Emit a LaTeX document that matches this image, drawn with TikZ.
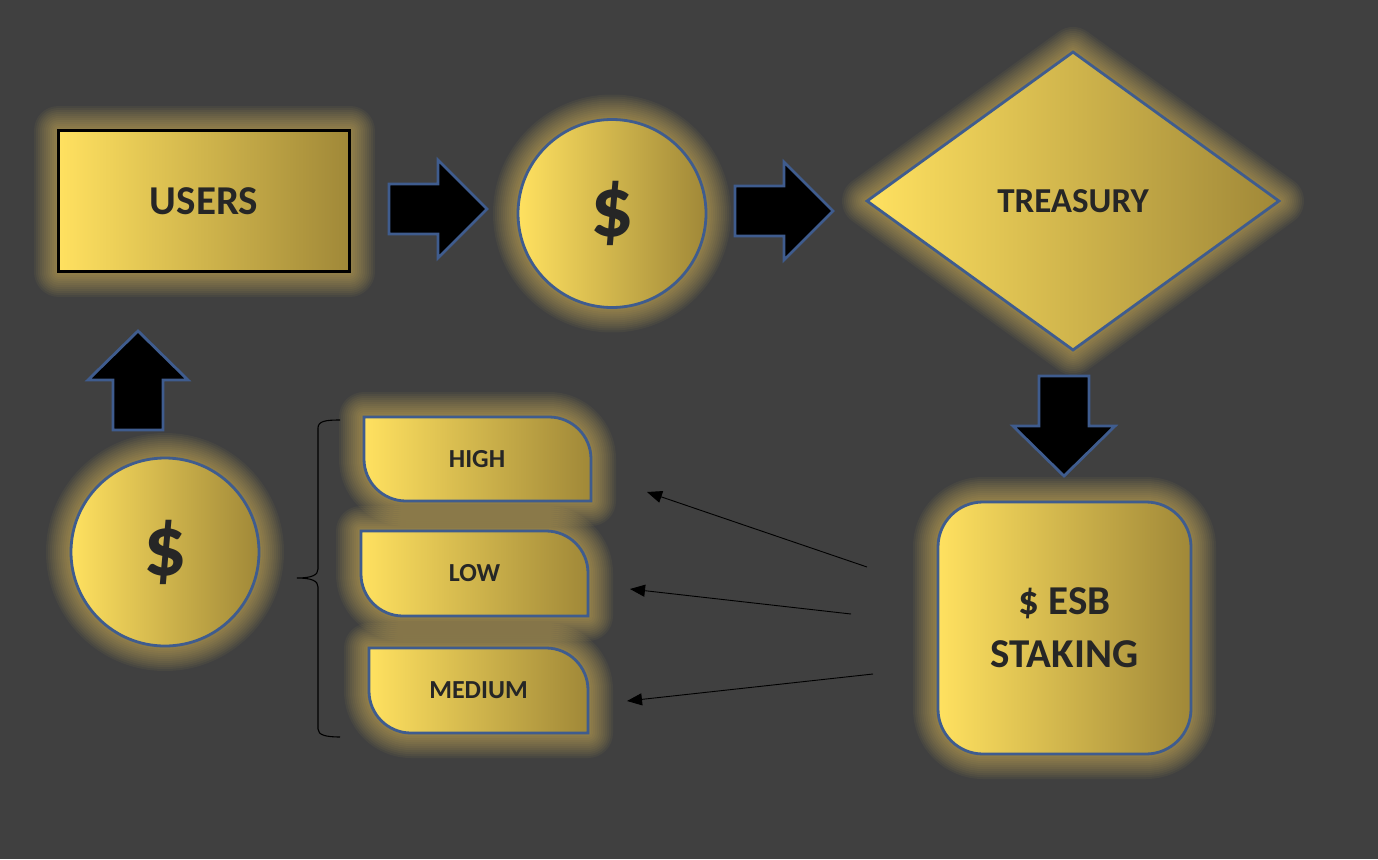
\documentclass[tikz,border=0pt]{standalone}
\usepackage{fontspec}
\setmainfont{Carlito}
\usetikzlibrary{shapes.geometric,arrows.meta}
\definecolor{bg}{HTML}{404040}
\definecolor{goldL}{HTML}{FFE160}
\definecolor{goldR}{HTML}{A08838}
\definecolor{glowc}{HTML}{FFD75E}
\definecolor{edgeblue}{HTML}{3F5C8E}
\definecolor{txtdark}{HTML}{262626}
\tikzset{
 gl/.style={preaction={draw=glowc,draw opacity=.048,line width=#1,line join=round}},
 glow/.style={gl=50pt,gl=46pt,gl=42pt,gl=38pt,gl=34pt,gl=30pt,gl=26pt,gl=22pt,gl=18pt,gl=14pt,gl=10pt,gl=6pt},
 gold/.style={left color=goldL,right color=goldR},
 blueedge/.style={draw=edgeblue,line width=2.8pt},
 blockarrow/.style={fill=black,draw=edgeblue,line width=2.8pt,line join=miter},
 lbl/.style={inner sep=0pt,text=txtdark},
 thinarrow/.style={draw=black,line width=0.9pt,-{Triangle[length=15pt,width=12pt]}},
}
\begin{document}
\begin{tikzpicture}[x=1pt,y=-1pt]
\useasboundingbox (0,0) rectangle (1378,859);
\fill[bg] (0,0) rectangle (1378,859);

% main shapes
\node[rectangle,gold,glow,draw=black,line width=3pt,minimum width=291pt,minimum height=141pt,inner sep=0pt,text=txtdark,font=\bfseries\fontsize{41}{50}\selectfont] (users) at (204,201) {USERS};
\node[circle,gold,glow,blueedge,minimum size=188pt,inner sep=0pt,text=txtdark,font=\bfseries\fontsize{86}{96}\selectfont] (coin1) at (612,213.5) {\raisebox{8pt}{\$}};
\node[diamond,gold,glow,blueedge,minimum width=413pt,minimum height=299pt,inner sep=0pt,text=txtdark,font=\bfseries\fontsize{35}{42}\selectfont] (treasury) at (1073,201) {TREASURY};
\node[rectangle,rounded corners=45pt,gold,glow,blueedge,minimum width=253pt,minimum height=252pt,inner sep=0pt,align=center,text=txtdark,font=\bfseries\fontsize{41}{53}\selectfont] (esb) at (1064.5,628) {\$ ESB\\STAKING};
\node[circle,gold,glow,blueedge,minimum size=188pt,inner sep=0pt,text=txtdark,font=\bfseries\fontsize{86}{96}\selectfont] (coin2) at (165,552) {\raisebox{9pt}{\$}};

% tab shapes
\path[gold,glow,blueedge] (364,417) -- (549,417) .. controls (572.2,417) and (591,435.8) .. (591,459) -- (591,501) -- (406,501) .. controls (382.8,501) and (364,482.2) .. (364,459) -- cycle;
\path[gold,glow,blueedge] (361,531) -- (546,531) .. controls (569.2,531) and (588,549.8) .. (588,573) -- (588,616) -- (403,616) .. controls (379.8,616) and (361,597.2) .. (361,574) -- cycle;
\path[gold,glow,blueedge] (369,648) -- (546,648) .. controls (569.2,648) and (588,666.8) .. (588,690) -- (588,733) -- (411,733) .. controls (387.8,733) and (369,714.2) .. (369,691) -- cycle;
\node[lbl,font=\bfseries\fontsize{26}{32}\selectfont] (high) at (477,459) {HIGH};
\node[lbl,font=\bfseries\fontsize{26}{32}\selectfont] (low) at (474.5,573.5) {LOW};
\node[lbl,font=\bfseries\fontsize{26}{32}\selectfont] (medium) at (478.5,690) {MEDIUM};

% block arrows
\path[blockarrow] (389,184) -- (438,184) -- (438,160) -- (487,209) -- (438,258) -- (438,234) -- (389,234) -- cycle;
\path[blockarrow] (735,186) -- (784,186) -- (784,162) -- (833,211) -- (784,260) -- (784,236) -- (735,236) -- cycle;
\path[blockarrow] (113,430) -- (113,380) -- (88,380) -- (138,331) -- (188,380) -- (163,380) -- (163,430) -- cycle;
\path[blockarrow] (1039,376) -- (1089,376) -- (1089,426) -- (1115,426) -- (1064,476) -- (1013,426) -- (1039,426) -- cycle;

% brace
\draw[black,line width=1.1pt] (340,420) .. controls (326,420) and (318,421) .. (318,428) -- (318,569) .. controls (318,575) and (312,578) .. (297,578) .. controls (312,578) and (318,581) .. (318,587) -- (318,729) .. controls (318,735) and (326,737) .. (340,737);

% thin arrows
\coordinate (s1) at (867,567);
\coordinate (t1) at (647,492);
\coordinate (s2) at (851,614);
\coordinate (t2) at (630,589);
\coordinate (s3) at (873,674);
\coordinate (t3) at (627,701);
\draw[thinarrow] (s1) -- (t1);
\draw[thinarrow] (s2) -- (t2);
\draw[thinarrow] (s3) -- (t3);
\end{tikzpicture}
\end{document}
